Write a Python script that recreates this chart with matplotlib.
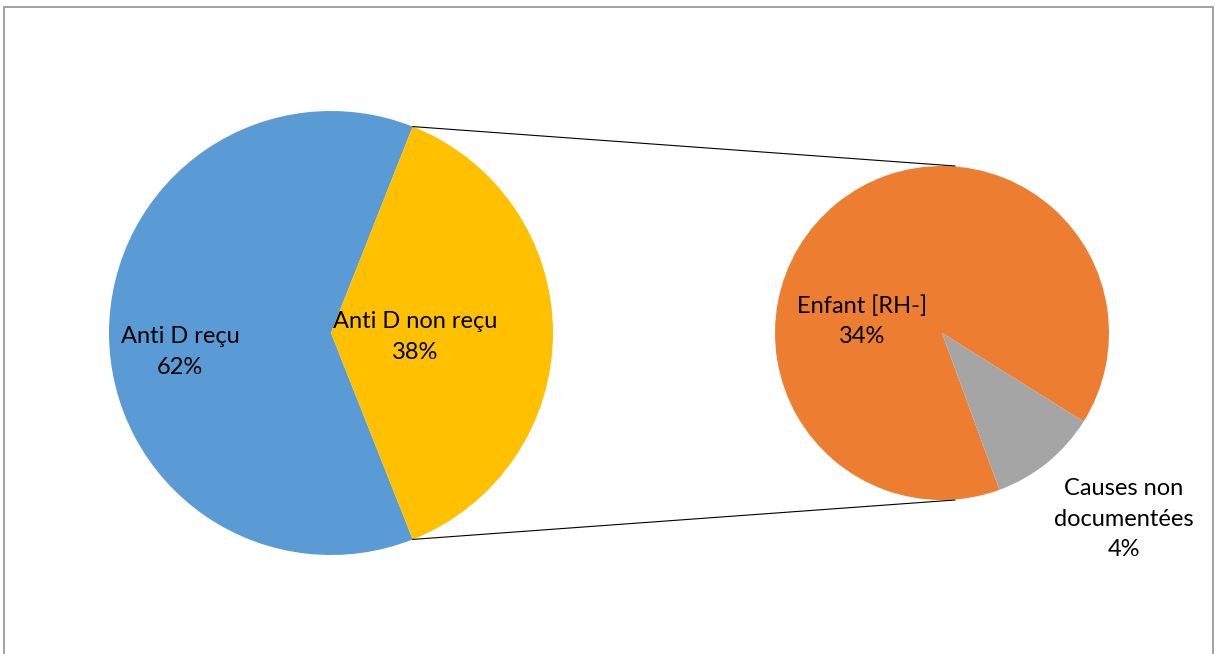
import matplotlib
matplotlib.use('Agg')
import numpy as np
import matplotlib.pyplot as plt
from matplotlib.patches import Rectangle

plt.rcParams['font.family'] = ['Lato', 'DejaVu Sans']

# main pie
main_labels = ['Anti D reçu', 'Anti D non reçu']
main_values = [62, 38]
main_colors = ['#5B9BD5', '#FFC000']

# breakdown of "Anti D non reçu"
sub_labels = ['Enfant [RH-]', 'Causes non\ndocumentées']
sub_values = [34, 4]
sub_colors = ['#ED7D31', '#A5A5A5']

W, H = 1215, 654
fig = plt.figure(figsize=(W / 100, H / 100), dpi=100)
ax = fig.add_axes([0, 0, 1, 1])

main_c, main_r = (331, 321), 222
sub_c, sub_r = (942, 321), 167

# split slice centred on the right-hand side
start = 360 * main_values[1] / sum(main_values) / 2
ax.pie(main_values, colors=main_colors, startangle=start, counterclock=True,
       center=main_c, radius=main_r, frame=True,
       wedgeprops=dict(linewidth=0))
ax.pie(sub_values, colors=sub_colors, startangle=-32, counterclock=True,
       center=sub_c, radius=sub_r, frame=True,
       wedgeprops=dict(linewidth=0))

# connector lines between the two pies
a = np.deg2rad(start)
for s in (1, -1):
    x0 = main_c[0] + main_r * np.cos(a)
    y0 = main_c[1] + s * main_r * np.sin(a)
    ax.plot([x0, sub_c[0] + 13], [y0, sub_c[1] + s * sub_r], color='black', lw=0.8)

def pct(v):
    return '{:.0f}%'.format(100 * v / sum(main_values))

fs = 17
ls = 1.55
ax.text(180, 654 - 352, main_labels[0] + '\n' + pct(main_values[0]),
        ha='center', va='center', fontsize=fs, linespacing=ls)
ax.text(415, 654 - 337, main_labels[1] + '\n' + pct(main_values[1]),
        ha='center', va='center', fontsize=fs, linespacing=ls)
ax.text(862, 654 - 321, sub_labels[0] + '\n' + pct(sub_values[0]),
        ha='center', va='center', fontsize=fs, linespacing=ls)
ax.text(1124, 654 - 519, sub_labels[1] + '\n' + pct(sub_values[1]),
        ha='center', va='center', fontsize=fs, linespacing=ls)

# chart area border
ax.add_patch(Rectangle((3.5, -10), 1209.5, 654 - 6.5 + 10, fill=False,
                       edgecolor='#9a9a9a', lw=1.3))

ax.set_xlim(0, W)
ax.set_ylim(0, H)
ax.set_aspect('auto')
ax.axis('off')

fig.savefig('out.png', dpi=100)
